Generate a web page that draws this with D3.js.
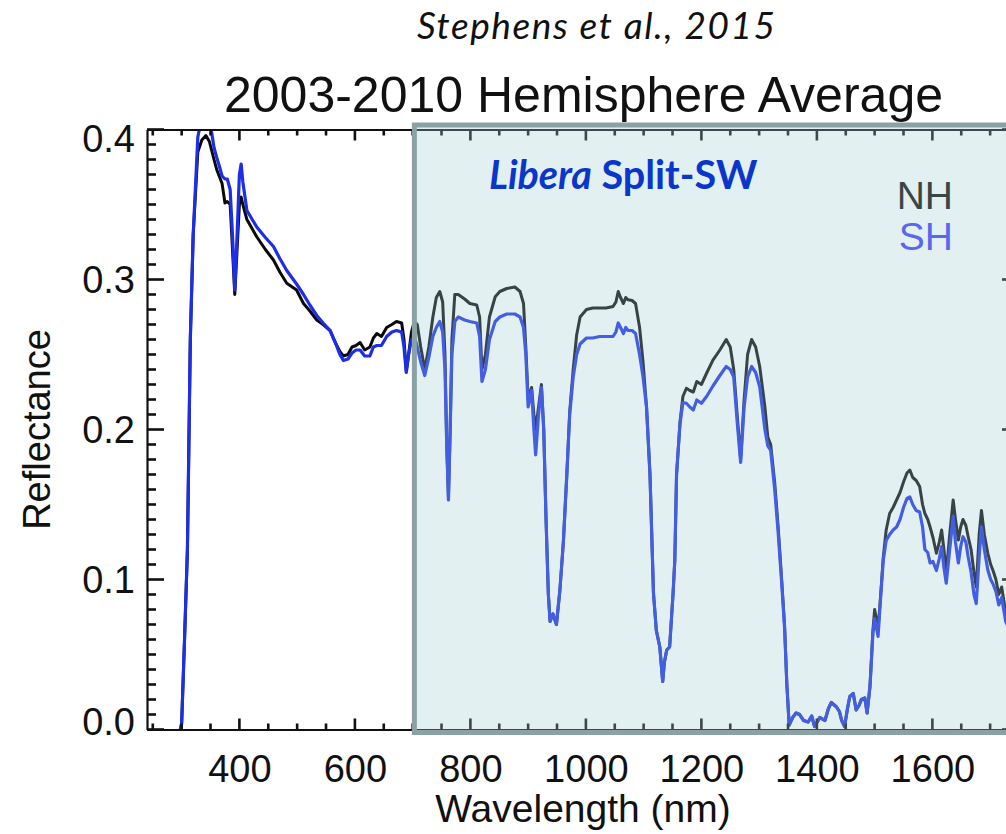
<!DOCTYPE html>
<html>
<head>
<meta charset="utf-8">
<script src="https://cdn.jsdelivr.net/npm/d3@7"></script>
<style>
  html, body { margin: 0; padding: 0; background: #fff; }
  svg { display: block; }
</style>
</head>
<body>
<svg id="chart" width="1006" height="834"></svg>
<script>
// Hemisphere-averaged reflectance spectra, 2003-2010
const wavelength = [
  240, 297, 300, 305, 310, 315, 320, 328, 335, 342, 348, 352, 356, 361, 365, 370, 375, 379, 384, 388,
  392, 396, 400, 403, 406, 413, 430, 445, 459, 470, 482, 499, 511, 522, 534, 545, 557, 566, 574, 580,
  588, 595, 602, 609, 617, 626, 632, 638, 646, 655, 664, 672, 681, 685, 689, 693, 698, 703, 708, 714,
  721, 728, 735, 741, 747, 752, 756, 759, 762, 765, 768, 773, 779, 790, 799, 811, 816, 820, 826, 833,
  843, 851, 863, 877, 886, 892, 896, 900, 906, 910, 913, 918, 923, 927, 931, 935, 938, 943, 949, 955,
  961, 967, 972, 978, 984, 990, 1001, 1012, 1024, 1035, 1047, 1052, 1056, 1060, 1065, 1069, 1073, 1080, 1086, 1093,
  1099, 1105, 1111, 1117, 1122, 1128, 1133, 1136, 1140, 1145, 1151, 1154, 1157, 1163, 1168, 1174, 1180, 1186, 1192, 1200,
  1209, 1220, 1232, 1243, 1250, 1256, 1262, 1268, 1274, 1280, 1287, 1294, 1301, 1310, 1315, 1320, 1327, 1333, 1339, 1344,
  1348, 1352, 1358, 1364, 1370, 1377, 1385, 1391, 1396, 1405, 1414, 1420, 1425, 1434, 1439, 1443, 1448, 1453, 1457, 1463,
  1468, 1473, 1477, 1483, 1487, 1492, 1497, 1500, 1506, 1509, 1515, 1520, 1526, 1532, 1538, 1544, 1550, 1556, 1561, 1566,
  1572, 1578, 1583, 1587, 1592, 1596, 1601, 1607, 1612, 1616, 1620, 1624, 1630, 1636, 1640, 1645, 1649, 1653, 1658, 1662,
  1667, 1672, 1676, 1681, 1685, 1690, 1696, 1701, 1705, 1710, 1715, 1720, 1727, 1735
];

const reflectanceNH = [
  -0.001, -0.001, 0.004, 0.06, 0.12, 0.26, 0.33, 0.385, 0.393, 0.396, 0.392, 0.386, 0.380, 0.373, 0.369, 0.364, 0.351, 0.352, 0.350, 0.320,
  0.290, 0.320, 0.350, 0.355, 0.350, 0.340, 0.3285, 0.320, 0.313, 0.305, 0.2975, 0.293, 0.284, 0.279, 0.273, 0.270, 0.266, 0.258, 0.252, 0.249,
  0.250, 0.255, 0.256, 0.258, 0.253, 0.255, 0.261, 0.264, 0.262, 0.268, 0.270, 0.272, 0.271, 0.260, 0.239, 0.250, 0.265, 0.272, 0.270, 0.255,
  0.240, 0.255, 0.275, 0.288, 0.292, 0.285, 0.250, 0.190, 0.155, 0.200, 0.260, 0.290, 0.290, 0.287, 0.284, 0.283, 0.275, 0.240, 0.250, 0.275,
  0.2885, 0.292, 0.294, 0.295, 0.292, 0.284, 0.255, 0.220, 0.228, 0.210, 0.200, 0.215, 0.230, 0.200, 0.140, 0.090, 0.072, 0.077, 0.070, 0.093,
  0.125, 0.170, 0.212, 0.240, 0.263, 0.275, 0.280, 0.281, 0.281, 0.281, 0.282, 0.285, 0.292, 0.288, 0.284, 0.288, 0.2865, 0.286, 0.284, 0.268,
  0.245, 0.215, 0.170, 0.091, 0.066, 0.055, 0.032, 0.045, 0.053, 0.055, 0.091, 0.113, 0.170, 0.205, 0.222, 0.2275, 0.226, 0.225, 0.232, 0.230,
  0.2375, 0.2463, 0.253, 0.260, 0.255, 0.240, 0.210, 0.180, 0.220, 0.250, 0.260, 0.255, 0.242, 0.215, 0.195, 0.190, 0.1645, 0.135, 0.100, 0.070,
  0.030, 0.003, 0.008, 0.011, 0.010, 0.006, 0.005, 0.009, 0.002, 0.008, 0.006, 0.014, 0.018, 0.015, 0.012, 0.006, 0.002, 0.014, 0.022, 0.024,
  0.013, 0.016, 0.020, 0.021, 0.011, 0.029, 0.066, 0.080, 0.068, 0.082, 0.115, 0.133, 0.144, 0.148, 0.153, 0.158, 0.165, 0.171, 0.173, 0.168,
  0.166, 0.162, 0.150, 0.144, 0.140, 0.135, 0.128, 0.1175, 0.125, 0.133, 0.120, 0.104, 0.130, 0.153, 0.140, 0.1263, 0.135, 0.140, 0.136, 0.1285,
  0.120, 0.105, 0.095, 0.130, 0.146, 0.130, 0.1175, 0.110, 0.106, 0.100, 0.090, 0.095, 0.078, 0.070
];

const reflectanceSH = [
  -0.001, -0.001, 0.004, 0.06, 0.12, 0.26, 0.33, 0.395, 0.408, 0.410, 0.405, 0.398, 0.388, 0.381, 0.376, 0.369, 0.367, 0.367, 0.360, 0.330,
  0.293, 0.330, 0.370, 0.377, 0.365, 0.346, 0.335, 0.328, 0.322, 0.314, 0.306, 0.297, 0.290, 0.283, 0.276, 0.271, 0.266, 0.258, 0.250, 0.246,
  0.247, 0.251, 0.253, 0.253, 0.249, 0.249, 0.255, 0.256, 0.256, 0.262, 0.265, 0.266, 0.265, 0.255, 0.238, 0.250, 0.260, 0.262, 0.255, 0.245,
  0.236, 0.248, 0.262, 0.268, 0.272, 0.265, 0.240, 0.190, 0.153, 0.200, 0.250, 0.272, 0.275, 0.273, 0.272, 0.271, 0.262, 0.232, 0.240, 0.260,
  0.272, 0.275, 0.277, 0.277, 0.275, 0.268, 0.250, 0.215, 0.226, 0.200, 0.183, 0.210, 0.228, 0.200, 0.140, 0.090, 0.072, 0.077, 0.070, 0.093,
  0.125, 0.170, 0.210, 0.235, 0.250, 0.257, 0.261, 0.261, 0.262, 0.262, 0.262, 0.265, 0.271, 0.268, 0.264, 0.268, 0.266, 0.266, 0.264, 0.250,
  0.235, 0.215, 0.170, 0.091, 0.066, 0.055, 0.032, 0.045, 0.053, 0.055, 0.091, 0.113, 0.170, 0.204, 0.218, 0.2175, 0.215, 0.213, 0.2197, 0.2175,
  0.222, 0.229, 0.236, 0.242, 0.240, 0.235, 0.205, 0.178, 0.215, 0.235, 0.242, 0.238, 0.2285, 0.200, 0.189, 0.186, 0.160, 0.131, 0.098, 0.068,
  0.030, 0.003, 0.008, 0.011, 0.010, 0.006, 0.005, 0.009, 0.002, 0.008, 0.006, 0.014, 0.018, 0.015, 0.012, 0.006, 0.002, 0.014, 0.022, 0.024,
  0.013, 0.016, 0.020, 0.021, 0.011, 0.029, 0.064, 0.074, 0.062, 0.080, 0.113, 0.126, 0.130, 0.133, 0.135, 0.140, 0.148, 0.154, 0.155, 0.150,
  0.146, 0.145, 0.135, 0.120, 0.118, 0.111, 0.112, 0.106, 0.114, 0.122, 0.108, 0.0975, 0.120, 0.142, 0.125, 0.111, 0.122, 0.1285, 0.125, 0.115,
  0.105, 0.090, 0.084, 0.115, 0.135, 0.120, 0.1063, 0.100, 0.097, 0.092, 0.083, 0.088, 0.072, 0.065
];

const xMajorTicks = [400, 600, 800, 1000, 1200, 1400, 1600];
const xMinorTicks = d3.range(250, 1751, 50).filter(v => v % 200 !== 0);
const yMajorTicks = [0.0, 0.1, 0.2, 0.3, 0.4];
const yMinorTicks = d3.range(0, 41).filter(i => i % 10 !== 0).map(i => i / 100);
const seriesNames = ["NH", "SH"];

const svg = d3.select("#chart");
const W = 1006, H = 834;
const plot = { left: 147, right: 1019, top: 129.5, bottom: 729.5 };

const x = d3.scaleLinear().domain([240, 1750]).range([plot.left, plot.right]);
const y = d3.scaleLinear().domain([0, 0.4]).range([plot.bottom, plot.top]);

const helv = "'Liberation Sans', Arial, Helvetica, sans-serif";
const ink = "#111";

svg.append("rect").attr("width", W).attr("height", H).attr("fill", "#fff");

svg.append("defs").append("clipPath").attr("id", "plotClip")
  .append("rect")
  .attr("x", plot.left).attr("y", plot.top)
  .attr("width", plot.right - plot.left).attr("height", plot.bottom - plot.top);

// spectra
const line = d3.line().x(d => x(d[0])).y(d => y(d[1]));
const nhPts = wavelength.map((w, i) => [w, reflectanceNH[i]]);
const shPts = wavelength.map((w, i) => [w, reflectanceSH[i]]);

const lines = svg.append("g").attr("clip-path", "url(#plotClip)");
lines.append("path").datum(nhPts).attr("d", line)
  .attr("fill", "none").attr("stroke", "#0a0a0a").attr("stroke-width", 3)
  .attr("stroke-linejoin", "round");
lines.append("path").datum(shPts).attr("d", line)
  .attr("fill", "none").attr("stroke", "#1e2ee8").attr("stroke-width", 3.2)
  .attr("stroke-linejoin", "round");

// frame with labelled axes
function styleAxis(g) {
  g.selectAll("path.domain").attr("stroke", ink).attr("stroke-width", 2.2);
  g.selectAll(".tick line").remove();
  g.selectAll("text").attr("fill", "#111").attr("font-family", helv).attr("font-size", 38);
}

svg.append("g").attr("transform", `translate(0,${plot.bottom})`)
  .call(d3.axisBottom(x).tickValues(xMajorTicks).tickSize(0).tickPadding(26).tickFormat(d3.format("d")))
  .call(styleAxis);

svg.append("g").attr("transform", `translate(0,${plot.top})`)
  .call(d3.axisTop(x).tickValues([]).tickSizeOuter(0))
  .call(styleAxis);

const yAxisG = svg.append("g").attr("transform", `translate(${plot.left},0)`)
  .call(d3.axisLeft(y).tickValues(yMajorTicks).tickSize(0).tickPadding(12).tickFormat(d3.format(".1f")))
  .call(styleAxis);
yAxisG.selectAll(".tick text")
  .attr("dy", d => d === 0.4 ? "0.58em" : d === 0 ? "0.12em" : "0.35em");

svg.append("g").attr("transform", `translate(${plot.right},0)`)
  .call(d3.axisRight(y).tickValues([]).tickSizeOuter(0))
  .call(styleAxis);

// inward tick marks on all four sides
const tickMarks = [];
xMinorTicks.forEach(v => { tickMarks.push({ v, len: 6, side: "bottom" }, { v, len: 6, side: "top" }); });
xMajorTicks.forEach(v => { tickMarks.push({ v, len: 11, side: "bottom" }, { v, len: 11, side: "top" }); });
yMinorTicks.forEach(v => { tickMarks.push({ v, len: 9, side: "left" }, { v, len: 9, side: "right" }); });
yMajorTicks.forEach(v => { tickMarks.push({ v, len: 17, side: "left" }, { v, len: 17, side: "right" }); });
const tw = 2.6;
svg.append("g").attr("class", "tickmarks")
  .selectAll("rect").data(tickMarks).join("rect")
  .attr("x", d => d.side === "bottom" || d.side === "top" ? x(d.v) - tw / 2
                 : d.side === "left" ? plot.left : plot.right - d.len)
  .attr("y", d => d.side === "bottom" ? plot.bottom - d.len
                 : d.side === "top" ? plot.top
                 : y(d.v) - tw / 2)
  .attr("width", d => d.side === "bottom" || d.side === "top" ? tw : d.len)
  .attr("height", d => d.side === "bottom" || d.side === "top" ? d.len : tw)
  .attr("fill", ink);

// axis titles
svg.append("text")
  .attr("x", (plot.left + plot.right) / 2).attr("y", 822)
  .attr("text-anchor", "middle")
  .attr("font-family", helv).attr("font-size", 39).attr("fill", "#111")
  .text("Wavelength (nm)");

svg.append("text")
  .attr("transform", `translate(50,${(plot.top + plot.bottom) / 2}) rotate(-90)`)
  .attr("text-anchor", "middle")
  .attr("font-family", helv).attr("font-size", 38).attr("fill", "#111")
  .text("Reflectance");

// chart title and citation
svg.append("text")
  .attr("x", 583.5).attr("y", 112)
  .attr("text-anchor", "middle")
  .attr("font-family", helv).attr("font-size", 50).attr("fill", "#111")
  .text("2003-2010 Hemisphere Average");

svg.append("text")
  .attr("x", 417).attr("y", 39)
  .attr("font-family", "Lato, 'Open Sans', sans-serif").attr("font-style", "italic")
  .attr("font-size", 37).attr("fill", "#111")
  .attr("textLength", 358).attr("lengthAdjust", "spacing")
  .text("Stephens et al., 2015");

// highlighted Split-SW band, translucent over the spectra
const bandStart = 703;
svg.append("rect")
  .attr("x", x(bandStart)).attr("y", 125)
  .attr("width", 1040 - x(bandStart)).attr("height", 732.5 - 125)
  .attr("fill", "rgb(158,205,212)").attr("fill-opacity", 0.3)
  .attr("stroke", "#8ba2a4").attr("stroke-width", 5);

const libera = svg.append("text")
  .attr("x", 489).attr("y", 189)
  .attr("font-family", "Lato, 'Open Sans', sans-serif").attr("font-weight", "bold")
  .attr("font-size", 39.5).attr("fill", "#0a36cc");
libera.append("tspan").attr("font-style", "italic").text("Libera");
libera.append("tspan").text(" Split-SW");

// legend
const legendColors = ["#3a4646", "#5a66ee"];
svg.selectAll("text.legend").data(seriesNames).join("text")
  .attr("class", "legend")
  .attr("x", 953).attr("y", (d, i) => 209 + i * 41)
  .attr("text-anchor", "end")
  .attr("font-family", helv).attr("font-size", 39)
  .attr("fill", (d, i) => legendColors[i])
  .text(d => d);
</script>
</body>
</html>
